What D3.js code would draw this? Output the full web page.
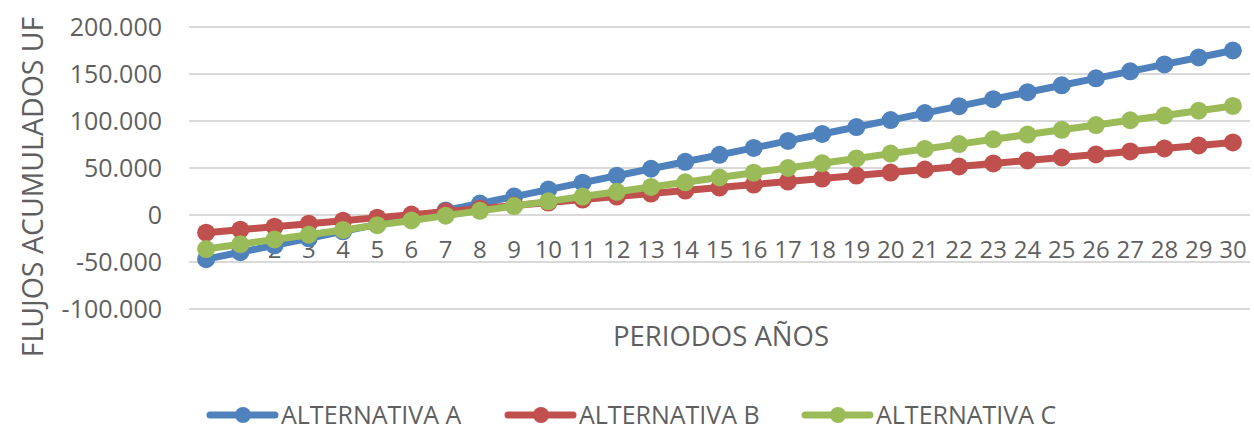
<!DOCTYPE html>
<html>
<head>
<meta charset="utf-8">
<script src="https://cdn.jsdelivr.net/npm/d3@7"></script>
<style>
  html, body { margin: 0; padding: 0; background: #fff; }
  svg { display: block; }
  text { font-family: "Open Sans", "Liberation Sans", sans-serif; fill: #595959; }
</style>
</head>
<body>
<svg id="chart" width="1254" height="431"></svg>
<script>
// Periods (years)
const periods = d3.range(0, 31).map(String);

// Accumulated flows (UF) per alternative
const alternativaA = [-47000, -39600, -32200, -24800, -17400, -10000, -2600, 4800, 12200, 19600,
  27000, 34400, 41800, 49200, 56600, 64000, 71400, 78800, 86200, 93600,
  101000, 108400, 115800, 123200, 130600, 138000, 145400, 152800, 160200, 167600, 175000];
const alternativaB = [-18800, -15600, -12400, -9200, -6000, -2800, 400, 3600, 6800, 10000,
  13200, 16400, 19600, 22800, 26000, 29200, 32400, 35600, 38800, 42000,
  45200, 48400, 51600, 54800, 58000, 61200, 64400, 67600, 70800, 74000, 77200];
const alternativaC = [-36200, -31100, -26000, -21000, -15900, -10800, -5800, -700, 4400, 9500,
  14500, 19600, 24700, 29800, 34800, 39900, 45000, 50000, 55100, 60200,
  65300, 70300, 75400, 80500, 85600, 90600, 95700, 100800, 105800, 110900, 116000];

const seriesNames = ["ALTERNATIVA A", "ALTERNATIVA B", "ALTERNATIVA C"];
const seriesColors = ["#4f81bd", "#c0504d", "#9bbb59"];
const yTicks = [-100000, -50000, 0, 50000, 100000, 150000, 200000];

const series = [alternativaA, alternativaB, alternativaC].map((values, i) => ({
  name: seriesNames[i], color: seriesColors[i], values
}));

const svg = d3.select("#chart");
const plot = { left: 189, right: 1250, top: 27, bottom: 309 };

const x = d3.scaleBand().domain(periods).range([plot.left, plot.right]);
const y = d3.scaleLinear().domain([-100000, 200000]).range([plot.bottom, plot.top]);

// Spanish-style thousands separator with a plain hyphen for negatives
const locale = d3.formatLocale({ decimal: ",", thousands: ".", grouping: [3], currency: ["", ""], minus: "-" });
const fmt = locale.format(",");

// Horizontal gridlines
svg.append("g").selectAll("line").data(yTicks).join("line")
  .attr("x1", plot.left).attr("x2", plot.right)
  .attr("y1", d => y(d)).attr("y2", d => y(d))
  .attr("stroke", "#d9d9d9").attr("stroke-width", 2);

// Value axis labels
const yAxis = d3.axisLeft(y).tickValues(yTicks).tickFormat(fmt).tickSize(0).tickPadding(27);
const yg = svg.append("g").attr("transform", `translate(${plot.left},0)`).call(yAxis);
yg.select(".domain").remove();
yg.selectAll("text").style("font-size", "25px").style("fill", "#5f5f5f")
  .style("font-family", "'Open Sans', sans-serif").attr("dy", "0.35em");

// Category axis labels, drawn just below the zero line
const xAxis = d3.axisBottom(x).tickSize(0).tickPadding(0);
const xg = svg.append("g").attr("transform", `translate(0,${y(0) + 26})`).call(xAxis);
xg.select(".domain").remove();
xg.selectAll("text").style("font-size", "24px").style("fill", "#5f5f5f")
  .style("font-family", "'Open Sans', sans-serif");

const cx = d => x(d) + x.bandwidth() / 2;
const line = d3.line().x((d, i) => cx(periods[i])).y(d => y(d));

// Series lines with markers
series.forEach(s => {
  const g = svg.append("g");
  g.append("path").datum(s.values)
    .attr("d", line).attr("fill", "none")
    .attr("stroke", s.color).attr("stroke-width", 7).attr("stroke-linejoin", "round");
  g.selectAll("circle").data(s.values).join("circle")
    .attr("cx", (d, i) => cx(periods[i])).attr("cy", d => y(d))
    .attr("r", 9).attr("fill", s.color);
});

// Axis titles
svg.append("text")
  .attr("transform", `translate(43,${187}) rotate(-90)`)
  .attr("text-anchor", "middle")
  .style("font-size", "28.5px").style("fill", "#5f5f5f")
  .text("FLUJOS ACUMULADOS UF");

svg.append("text")
  .attr("x", 721).attr("y", 346)
  .attr("text-anchor", "middle")
  .style("font-size", "27.5px").style("fill", "#5f5f5f")
  .text("PERIODOS AÑOS");

// Legend
const legendX = [210, 508, 805];
const legend = svg.append("g").selectAll("g").data(series).join("g")
  .attr("transform", (d, i) => `translate(${legendX[i]},415)`);
legend.append("line").attr("x1", 0).attr("x2", 65).attr("y1", 0).attr("y2", 0)
  .attr("stroke", d => d.color).attr("stroke-width", 7).attr("stroke-linecap", "round");
legend.append("circle").attr("cx", 33).attr("cy", 0).attr("r", 8).attr("fill", d => d.color);
legend.append("text").attr("x", 71).attr("y", 0).attr("dy", "0.36em")
  .style("font-size", "25px").style("fill", "#5f5f5f").text(d => d.name);
</script>
</body>
</html>
